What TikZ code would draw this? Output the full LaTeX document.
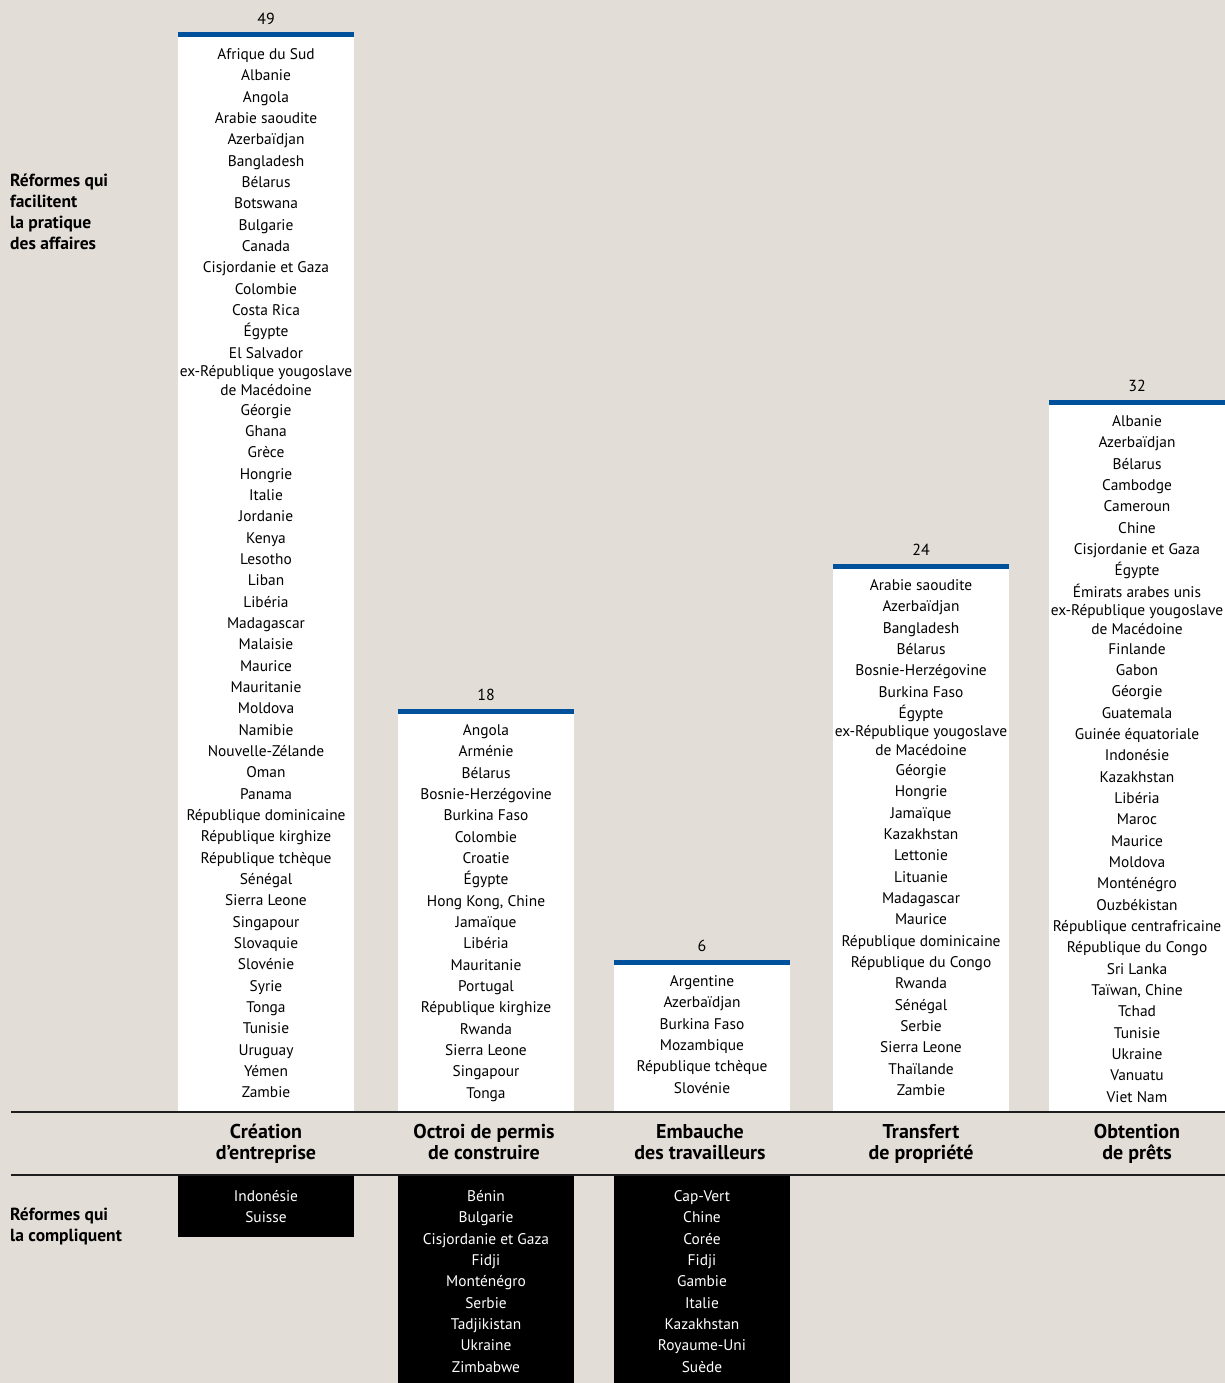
\documentclass[tikz,border=0pt]{standalone}
\usepackage{fontspec}
\setmainfont{PT Sans}
\usetikzlibrary{positioning}

\definecolor{fond}{HTML}{E2DED7}
\definecolor{barre}{HTML}{00519B}
\definecolor{trait}{HTML}{1E1E1E}

\tikzset{
  pays/.style={inner sep=0pt, outer sep=0pt, minimum height=21.33pt, align=center,
    font=\fontsize{15.4}{19}\selectfont,
    execute at begin node=\strut, execute at end node=\strut},
  total/.style={inner sep=0pt, font=\fontsize{16}{19}\selectfont},
  categorie/.style={inner sep=0pt, align=center, font=\bfseries\fontsize{20}{21}\selectfont,
    execute at begin node=\strut, execute at end node=\strut},
  reforme/.style={inner sep=0pt, anchor=north west, align=left,
    font=\bfseries\fontsize{17.5}{21}\selectfont, execute at begin node=\strut},
}

% colonne blanche : nom, x, y de la barre, total, liste
\newcommand\colonne[5]{%
  \fill[white] (#2-88,#3) rectangle (#2+88,1112);
  \fill[barre] (#2-88,#3-2.5) rectangle (#2+88,#3+2.5);
  \node[total] (#1-n) at (#2,#3-16) {#4};
  \coordinate (#1-0) at (#2,#3+10);
  \foreach \p [count=\i, remember=\i as \j (initially 0)] in {#5}
    \node[pays, below=0pt of #1-\j] (#1-\i) {\p};
}
% colonne noire : nom, x, bas, liste
\newcommand\negatif[4]{%
  \fill[black] (#2-88,1176) rectangle (#2+88,#3);
  \coordinate (#1-0) at (#2,1187);
  \foreach \p [count=\i, remember=\i as \j (initially 0)] in {#4}
    \node[pays, text=white, below=0pt of #1-\j] (#1-\i) {\p};
}

\begin{document}
\begin{tikzpicture}[x=1pt,y=-1pt]
  \fill[fond] (0,0) rectangle (1225,1383);
  \useasboundingbox (0,0) rectangle (1225,1383);

  %%%%% colonnes %%%%%
  \colonne{ce}{266}{35}{49}{Afrique du Sud, Albanie, Angola, Arabie saoudite, Azerbaïdjan,
    Bangladesh, Bélarus, Botswana, Bulgarie, Canada, Cisjordanie et Gaza, Colombie,
    Costa Rica, Égypte, El Salvador, {ex-République yougoslave\\de Macédoine}, Géorgie,
    Ghana, Grèce, Hongrie, Italie, Jordanie, Kenya, Lesotho, Liban, Libéria, Madagascar,
    Malaisie, Maurice, Mauritanie, Moldova, Namibie, Nouvelle-Zélande, Oman, Panama,
    République dominicaine, République kirghize, République tchèque, Sénégal,
    Sierra Leone, Singapour, Slovaquie, Slovénie, Syrie, Tonga, Tunisie, Uruguay,
    Yémen, Zambie}
  \colonne{pc}{486}{711}{18}{Angola, Arménie, Bélarus, Bosnie-Herzégovine, Burkina Faso,
    Colombie, Croatie, Égypte, {Hong Kong, Chine}, Jamaïque, Libéria, Mauritanie,
    Portugal, République kirghize, Rwanda, Sierra Leone, Singapour, Tonga}
  \colonne{et}{702}{962}{6}{Argentine, Azerbaïdjan, Burkina Faso, Mozambique,
    République tchèque, Slovénie}
  \colonne{tp}{921}{566}{24}{Arabie saoudite, Azerbaïdjan, Bangladesh, Bélarus,
    Bosnie-Herzégovine, Burkina Faso, Égypte, {ex-République yougoslave\\de Macédoine},
    Géorgie, Hongrie, Jamaïque, Kazakhstan, Lettonie, Lituanie, Madagascar, Maurice,
    République dominicaine, République du Congo, Rwanda, Sénégal, Serbie,
    Sierra Leone, Thaïlande, Zambie}
  \colonne{op}{1137}{402}{32}{Albanie, Azerbaïdjan, Bélarus, Cambodge, Cameroun, Chine,
    Cisjordanie et Gaza, Égypte, Émirats arabes unis,
    {ex-République yougoslave\\de Macédoine}, Finlande, Gabon, Géorgie, Guatemala,
    Guinée équatoriale, Indonésie, Kazakhstan, Libéria, Maroc, Maurice, Moldova,
    Monténégro, Ouzbékistan, République centrafricaine, République du Congo,
    Sri Lanka, {Taïwan, Chine}, Tchad, Tunisie, Ukraine, Vanuatu, Viet Nam}

  %%%%% reformes negatives %%%%%
  \negatif{nce}{266}{1237}{Indonésie, Suisse}
  \negatif{npc}{486}{1383}{Bénin, Bulgarie, Cisjordanie et Gaza, Fidji, Monténégro,
    Serbie, Tadjikistan, Ukraine, Zimbabwe}
  \negatif{net}{702}{1383}{Cap-Vert, Chine, Corée, Fidji, Gambie, Italie, Kazakhstan,
    Royaume-Uni, Suède}

  \draw[trait, line width=1.5pt] (11,1112) -- (1225,1112);
  \draw[trait, line width=1.5pt] (11,1175) -- (1225,1175);

  \node[categorie] (cat-ce) at (266,1145) {Création\\d’entreprise};
  \node[categorie] (cat-pc) at (484,1145) {Octroi de permis\\de construire};
  \node[categorie] (cat-et) at (700,1145) {Embauche\\des travailleurs};
  \node[categorie] (cat-tp) at (921,1145) {Transfert\\de propriété};
  \node[categorie] (cat-op) at (1137,1145) {Obtention\\de prêts};

  \node[reforme] (plus) at (10,174) {Réformes qui\\facilitent\\la pratique\\des affaires};
  \node[reforme] (moins) at (10,1208) {Réformes qui\\la compliquent};
\end{tikzpicture}
\end{document}
